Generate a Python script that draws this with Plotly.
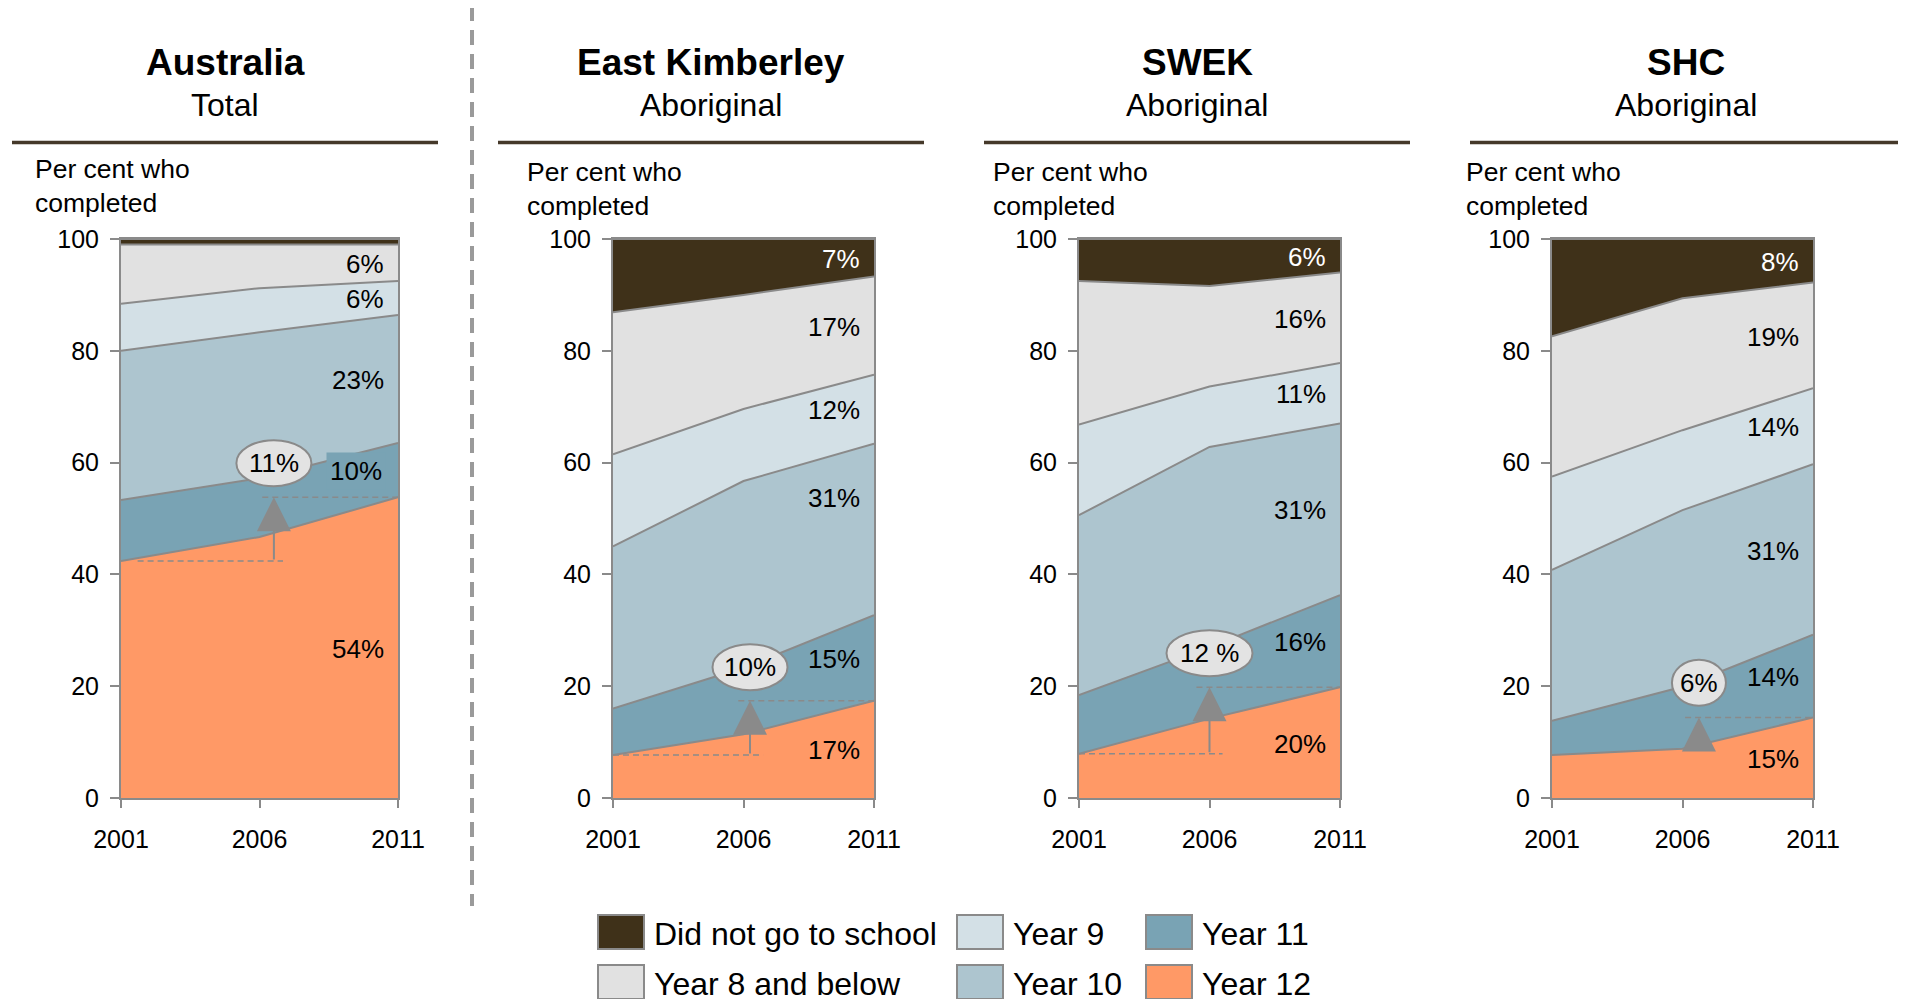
import plotly.graph_objects as go

# ---------------- data ----------------
years = [2001, 2006, 2011]
regions = ["Australia", "East Kimberley", "SWEK", "SHC"]
subtitles = ["Total", "Aboriginal", "Aboriginal", "Aboriginal"]
categories = ["Year 12", "Year 11", "Year 10", "Year 9", "Year 8 and below", "Did not go to school"]

# per cent who completed, by highest year of schooling
aus_year12 = [42.4, 46.7, 53.8]
aus_year11 = [10.9, 10.5, 9.7]
aus_year10 = [26.7, 26.1, 22.9]
aus_year9 = [8.4, 7.9, 6.1]
aus_year8 = [10.6, 7.8, 6.5]
aus_none = [1.0, 1.0, 1.0]

ek_year12 = [7.7, 11.4, 17.4]
ek_year11 = [8.3, 11.9, 15.3]
ek_year10 = [29.0, 33.4, 30.7]
ek_year9 = [16.5, 12.9, 12.3]
ek_year8 = [25.4, 20.4, 17.6]
ek_none = [13.1, 10.0, 6.7]

swek_year12 = [7.9, 14.2, 19.8]
swek_year11 = [10.5, 12.8, 16.5]
swek_year10 = [32.2, 35.8, 30.7]
swek_year9 = [16.2, 10.8, 10.8]
swek_year8 = [25.7, 18.0, 16.2]
swek_none = [7.5, 8.4, 6.0]

shc_year12 = [7.7, 8.8, 14.4]
shc_year11 = [6.1, 11.1, 14.8]
shc_year10 = [27.0, 31.6, 30.5]
shc_year9 = [16.7, 14.3, 13.6]
shc_year8 = [25.1, 23.6, 18.9]
shc_none = [17.4, 10.6, 7.8]

# 2011 value labels (bottom to top)
aus_labels = ["54%", "10%", "23%", "6%", "6%", ""]
ek_labels = ["17%", "15%", "31%", "12%", "17%", "7%"]
swek_labels = ["20%", "16%", "31%", "11%", "16%", "6%"]
shc_labels = ["15%", "14%", "31%", "14%", "19%", "8%"]

# Year 12 change call-outs: (start year index, label)
change_start = [0, 0, 0, 1]
change_labels = ["11%", "10%", "12 %", "6%"]

y_ticks = [0, 20, 40, 60, 80, 100]

# ---------------- styling ----------------
W, H = 1906, 999
OFF = 8  # page body margin offset
FONT = "Arial, Liberation Sans, sans-serif"
colors = ["#ff9966", "#79a3b4", "#adc5cf", "#d3e0e6", "#e1e1e1", "#3f3119"]
EDGE = "#8a8a8a"

def px(x):
    return (x - OFF) / W

def py(y):
    return 1 - (y - OFF) / H

plot_left = [121, 613, 1079, 1552]
plot_right = [398, 874, 1340, 1813]
plot_top, plot_bottom = 239, 798
rule_left = [12, 498, 984, 1470]
rule_len = [426, 426, 426, 432]

data_sets = [
    [aus_year12, aus_year11, aus_year10, aus_year9, aus_year8, aus_none],
    [ek_year12, ek_year11, ek_year10, ek_year9, ek_year8, ek_none],
    [swek_year12, swek_year11, swek_year10, swek_year9, swek_year8, swek_none],
    [shc_year12, shc_year11, shc_year10, shc_year9, shc_year8, shc_none],
]
label_sets = [aus_labels, ek_labels, swek_labels, shc_labels]

# call-out layout (positions only)
arrow_x = [2006.52, 2006.25, 2006.0, 2006.63]
ellipse_y = [59.9, 23.4, 25.9, 20.6]
ellipse_w = [75, 75, 86, 54]
low_dash = [(2001.6, 2006.85), (2001.0, 2006.75), (2001.0, 2006.5), (2006.17, 2007.1)]
high_dash = [(2006.1, 2011), (2005.8, 2011), (2005.5, 2011), (2006.1, 2011)]
label_nudge = {(1, 2): 5.8}

fig = go.Figure()
annotations = []
shapes = []

for p in range(4):
    xa = "x" if p == 0 else f"x{p+1}"
    ya = "y" if p == 0 else f"y{p+1}"
    series = data_sets[p]
    for c, vals in enumerate(series):
        fig.add_trace(go.Scatter(
            x=years, y=vals, mode="lines", stackgroup=f"s{p}",
            line=dict(color=EDGE, width=2), fillcolor=colors[c],
            name=categories[c], showlegend=False, hoverinfo="skip",
            xaxis=xa, yaxis=ya))
    # value labels at 2011
    cum = 0
    for c, vals in enumerate(series):
        mid = cum + vals[-1] / 2 - 0.2 + label_nudge.get((p, c), 0)
        cum += vals[-1]
        txt = label_sets[p][c]
        if not txt:
            continue
        ann = dict(x=2011, y=mid, xref=xa, yref=ya, text=txt, showarrow=False,
                   xanchor="right", yanchor="middle", xshift=-12,
                   font=dict(family=FONT, size=26,
                             color="white" if c == 5 else "black"))
        if p == 0 and c == 1:
            ann.update(bgcolor=colors[1], borderpad=3)
        annotations.append(ann)

    # change call-out for Year 12
    y12 = series[0]
    s = change_start[p]
    y_lo, y_hi = y12[s], y12[-1]
    fig.add_trace(go.Scatter(x=list(low_dash[p]), y=[y_lo, y_lo], mode="lines",
                             line=dict(color=EDGE, width=1.5, dash="6px,4px"),
                             showlegend=False, hoverinfo="skip", xaxis=xa, yaxis=ya))
    fig.add_trace(go.Scatter(x=list(high_dash[p]), y=[y_hi, y_hi], mode="lines",
                             line=dict(color=EDGE, width=1.5, dash="6px,4px"),
                             showlegend=False, hoverinfo="skip", xaxis=xa, yaxis=ya))
    annotations.append(dict(x=arrow_x[p], y=y_hi, ax=arrow_x[p], ay=y_lo,
                            xref=xa, yref=ya, axref=xa, ayref=ya, text="",
                            showarrow=True, arrowhead=2, arrowsize=3.4,
                            arrowwidth=2, arrowcolor=EDGE, standoff=0))
    ew = ellipse_w[p] / 2
    shapes.append(dict(type="circle", xref=xa, yref=ya, xsizemode="pixel",
                       ysizemode="pixel", xanchor=arrow_x[p], yanchor=ellipse_y[p],
                       x0=-ew, x1=ew, y0=-23, y1=23, fillcolor="#e3e3e3",
                       line=dict(color=EDGE, width=2), layer="above"))
    annotations.append(dict(x=arrow_x[p], y=ellipse_y[p], xref=xa, yref=ya,
                            text=change_labels[p], showarrow=False,
                            xanchor="center", yanchor="middle",
                            font=dict(family=FONT, size=26, color="black")))

    # axes
    axis_common = dict(showline=True, linecolor=EDGE, linewidth=2, mirror=True,
                       ticks="outside", tickcolor=EDGE, tickwidth=2,
                       showgrid=False, zeroline=False, automargin=False,
                       tickfont=dict(family=FONT, size=25, color="black"))
    fig.update_layout({
        ("xaxis" if p == 0 else f"xaxis{p+1}"): dict(
            domain=[px(plot_left[p]), px(plot_right[p])], anchor=ya,
            range=[2001, 2011], tickvals=years, ticklen=8,
            ticklabelstandoff=10, **axis_common),
        ("yaxis" if p == 0 else f"yaxis{p+1}"): dict(
            domain=[py(plot_bottom), py(plot_top)], anchor=xa,
            range=[0, 100], tickvals=y_ticks, ticklen=9,
            ticklabelstandoff=6, **axis_common),
    })

    # titles
    cx = rule_left[p] + rule_len[p] / 2
    annotations.append(dict(x=px(cx), y=py(63), xref="paper", yref="paper",
                            text=f"<b>{regions[p]}</b>", showarrow=False,
                            xanchor="center", yanchor="middle",
                            font=dict(family=FONT, size=37, color="black")))
    annotations.append(dict(x=px(cx), y=py(105), xref="paper", yref="paper",
                            text=subtitles[p], showarrow=False,
                            xanchor="center", yanchor="middle",
                            font=dict(family=FONT, size=32, color="black")))
    shapes.append(dict(type="line", xref="paper", yref="paper",
                       x0=px(rule_left[p]), x1=px(rule_left[p] + rule_len[p]),
                       y0=py(142.5), y1=py(142.5),
                       line=dict(color="#45392a", width=3.5)))
    annotations.append(dict(x=px(plot_left[p] - 88), y=py(152 + (0 if p == 0 else 3)),
                            xref="paper", yref="paper",
                            text="Per cent who<br>completed", showarrow=False,
                            xanchor="left", yanchor="top", align="left",
                            font=dict(family=FONT, size=26.5, color="black")))

# separator
shapes.append(dict(type="line", xref="paper", yref="paper",
                   x0=px(472), x1=px(472), y0=py(6), y1=py(906),
                   line=dict(color="#9a9a9a", width=4, dash="15px,9px")))

# legend (two rows, three columns)
legend_cols = [598, 957, 1146]
legend_rows = [932, 982]
legend_order = [5, 4, 3, 2, 1, 0]
for i, c in enumerate(legend_order):
    col, row = i // 2, i % 2
    x0 = legend_cols[col]
    yc = legend_rows[row]
    shapes.append(dict(type="rect", xref="paper", yref="paper",
                       x0=px(x0), x1=px(x0 + 46), y0=py(yc - 17), y1=py(yc + 17),
                       fillcolor=colors[c], line=dict(color=EDGE, width=2)))
    annotations.append(dict(x=px(x0 + 54), y=py(yc + 2), xref="paper", yref="paper",
                            text=categories[c], showarrow=False,
                            xanchor="left", yanchor="middle",
                            font=dict(family=FONT, size=32, color="black")))

fig.update_layout(width=W, height=H, margin=dict(l=0, r=0, t=0, b=0, autoexpand=False),
                  paper_bgcolor="white", plot_bgcolor="white",
                  annotations=annotations, shapes=shapes, showlegend=False)

fig.write_html("out.html")
